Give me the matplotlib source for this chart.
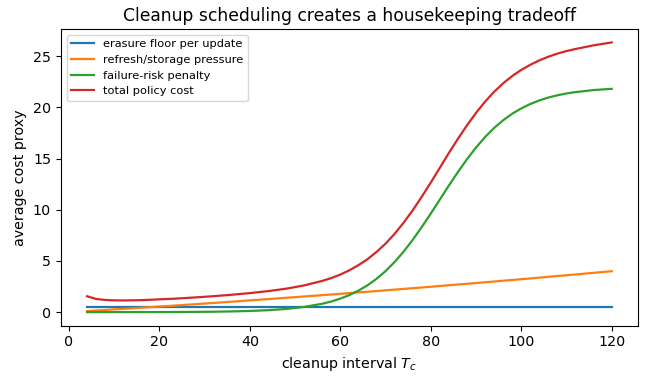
import matplotlib
matplotlib.use("Agg")
import matplotlib.pyplot as plt

# cleanup interval T_c
interval = [4, 6, 8, 10, 12, 16, 20, 24, 28, 32, 36, 40, 44, 48, 52, 56,
            58, 60, 62, 64, 66, 68, 70, 72, 74, 76, 78, 80, 82, 84, 86, 88,
            90, 92, 94, 96, 98, 100, 102, 104, 106, 108, 110, 112, 116, 120]

erasure_floor = [0.5] * len(interval)

refresh_pressure = [0.10, 0.16, 0.21, 0.27, 0.32, 0.43, 0.55, 0.66, 0.78, 0.90, 1.02, 1.15,
                    1.27, 1.40, 1.53, 1.66, 1.72, 1.79, 1.86, 1.93, 1.99, 2.06, 2.13, 2.20,
                    2.27, 2.34, 2.41, 2.48, 2.55, 2.63, 2.70, 2.77, 2.84, 2.92, 2.99, 3.07,
                    3.14, 3.22, 3.29, 3.37, 3.45, 3.53, 3.60, 3.68, 3.84, 4.00]

failure_penalty = [0.001, 0.002, 0.002, 0.003, 0.004, 0.006, 0.010, 0.016, 0.026, 0.042, 0.070, 0.115,
                   0.19, 0.31, 0.51, 0.82, 1.04, 1.32, 1.67, 2.10, 2.62, 3.26, 4.01, 4.90,
                   5.92, 7.06, 8.31, 9.63, 11.00, 12.37, 13.69, 14.94, 16.08, 17.10, 17.99, 18.74,
                   19.38, 19.90, 20.33, 20.68, 20.96, 21.18, 21.36, 21.49, 21.69, 21.81]

total_cost = [1.55, 1.29, 1.19, 1.15, 1.14, 1.17, 1.25, 1.33, 1.44, 1.56, 1.70, 1.86,
              2.05, 2.29, 2.61, 3.05, 3.33, 3.67, 4.09, 4.59, 5.17, 5.88, 6.69, 7.65,
              8.74, 9.95, 11.27, 12.66, 14.10, 15.55, 16.93, 18.25, 19.46, 20.56, 21.52, 22.35,
              23.06, 23.66, 24.16, 24.59, 24.95, 25.25, 25.50, 25.70, 26.06, 26.34]

labels = ["erasure floor per update", "refresh/storage pressure",
          "failure-risk penalty", "total policy cost"]

fs = 1.025
fig = plt.figure(figsize=(6.54, 3.76), dpi=100)
ax = fig.add_axes([0.093, 0.134, 0.8825, 0.789])

lw = 1.6
ax.plot(interval, erasure_floor, color="#1f77b4", lw=lw, label=labels[0])
ax.plot(interval, refresh_pressure, color="#ff7f0e", lw=lw, label=labels[1])
ax.plot(interval, failure_penalty, color="#2ca02c", lw=lw, label=labels[2])
ax.plot(interval, total_cost, color="#d62728", lw=lw, label=labels[3])

ax.set_title("Cleanup scheduling creates a housekeeping tradeoff", fontsize=12 * fs)
ax.set_xlabel("cleanup interval $T_c$", fontsize=10 * fs)
ax.set_ylabel("average cost proxy", fontsize=10 * fs)
ax.set_xticks([0, 20, 40, 60, 80, 100, 120])
ax.set_yticks([0, 5, 10, 15, 20, 25])
ax.tick_params(labelsize=10 * fs)
ax.legend(loc="upper left", fontsize=8 * fs)

fig.savefig("out.png", dpi=100)
